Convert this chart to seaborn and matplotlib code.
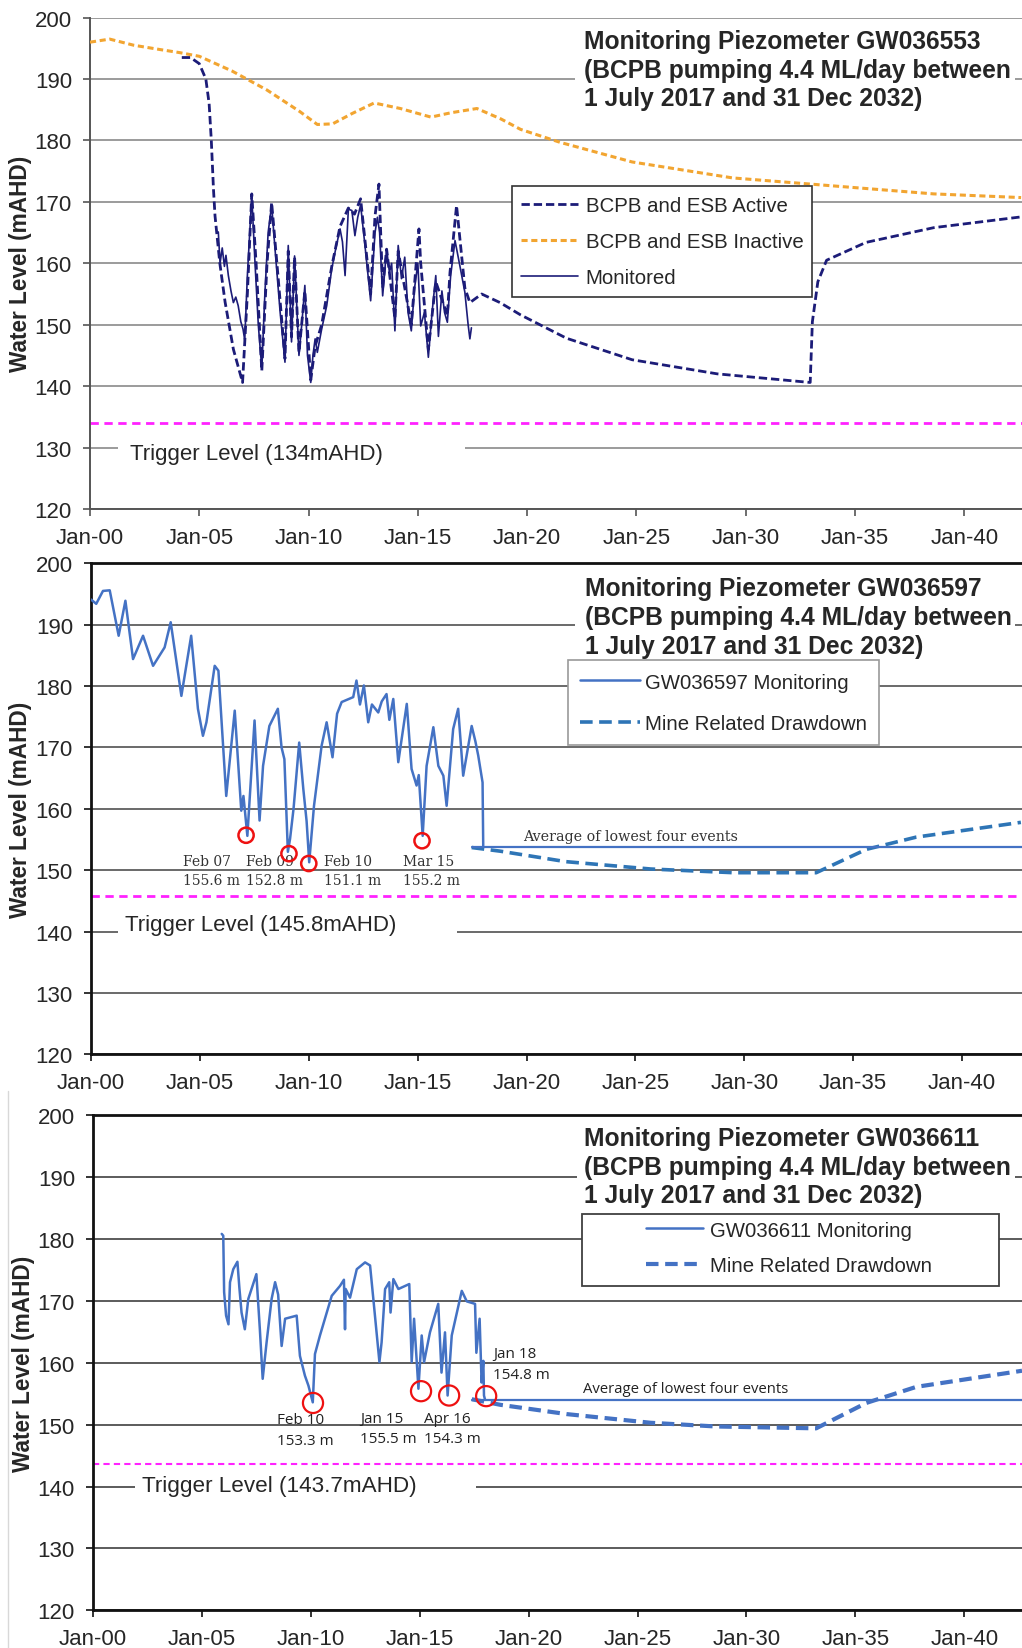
import matplotlib.pyplot as plt
from matplotlib.patches import Rectangle
from matplotlib.lines import Line2D
import seaborn as sns

sns.set_style("ticks")
plt.rcParams["font.family"] = ["Liberation Sans", "DejaVu Sans"]

# ---------------- shared axis data ----------------
x_ticks = [2000, 2005, 2010, 2015, 2020, 2025, 2030, 2035, 2040]
x_tick_labels = ["Jan-00", "Jan-05", "Jan-10", "Jan-15", "Jan-20", "Jan-25", "Jan-30", "Jan-35", "Jan-40"]
y_ticks = [120, 130, 140, 150, 160, 170, 180, 190, 200]

# ---------------- GW036553 ----------------
p1_title = "Monitoring Piezometer GW036553\n(BCPB pumping 4.4 ML/day between\n1 July 2017 and 31 Dec 2032)"
p1_inactive_year = [2000.0, 2000.9, 2002.0, 2003.2, 2004.1, 2005.0, 2006.5, 2008.1, 2009.6, 2010.4,
                    2011.1, 2012.0, 2013.0, 2014.2, 2015.6, 2016.5, 2017.7, 2018.8, 2019.7, 2021.5,
                    2024.8, 2029.4, 2033.3, 2038.6, 2042.6]
p1_inactive_level = [196.0, 196.5, 195.5, 194.8, 194.3, 193.7, 191.3, 188.2, 184.7, 182.6,
                     182.7, 184.4, 186.1, 185.2, 183.8, 184.5, 185.2, 183.5, 181.8, 179.7,
                     176.5, 173.9, 172.8, 171.3, 170.7]
p1_active_year = [2004.2, 2004.6, 2005.0, 2005.3, 2005.45, 2005.55, 2005.65, 2005.72, 2005.94, 2006.18,
                  2006.56, 2006.98, 2007.2, 2007.4, 2007.6, 2007.86, 2008.1, 2008.31, 2008.6, 2008.92,
                  2009.07, 2009.22, 2009.36, 2009.56, 2009.83, 2010.1, 2010.3, 2010.6, 2011.06, 2011.44,
                  2011.82, 2012.1, 2012.38, 2012.84, 2013.04, 2013.22, 2013.39, 2013.57, 2013.95, 2014.1,
                  2014.7, 2015.05, 2015.13, 2015.48, 2015.82, 2016.35, 2016.47, 2016.77, 2017.15, 2017.38,
                  2017.92, 2018.76, 2019.7, 2021.8, 2024.8, 2028.7, 2032.95, 2033.05, 2033.3, 2033.7,
                  2035.5, 2038.6, 2042.7]
p1_active_level = [193.5, 193.5, 192.5, 190.0, 186.0, 180.0, 172.0, 167.7, 160.0, 153.7,
                   146.0, 140.6, 155.0, 171.3, 160.0, 142.5, 160.0, 169.9, 158.0, 144.5,
                   162.0, 148.0, 161.0, 145.5, 155.5, 141.0, 146.5, 150.0, 159.5, 166.0,
                   169.0, 168.0, 170.5, 155.0, 167.7, 172.9, 156.0, 162.3, 151.0, 162.0,
                   150.0, 165.6, 160.0, 146.0, 157.0, 151.5, 158.5, 169.4, 156.0, 153.6,
                   155.0, 153.6, 151.6, 147.8, 144.3, 142.0, 140.6, 150.5, 157.0, 160.5,
                   163.4, 165.8, 167.6]
p1_monitored_year = [2005.87, 2005.95, 2006.05, 2006.15, 2006.22, 2006.33, 2006.45, 2006.56, 2006.67, 2006.78,
                     2006.9, 2007.0, 2007.08, 2007.2, 2007.4, 2007.55, 2007.7, 2007.86, 2008.0, 2008.15,
                     2008.31, 2008.45, 2008.7, 2008.92, 2009.07, 2009.22, 2009.36, 2009.56, 2009.7, 2009.83,
                     2009.95, 2010.1, 2010.2, 2010.3, 2010.4, 2010.6, 2010.83, 2011.06, 2011.25, 2011.44,
                     2011.55, 2011.67, 2011.82, 2011.98, 2012.12, 2012.25, 2012.38, 2012.58, 2012.84, 2013.04,
                     2013.15, 2013.25, 2013.39, 2013.57, 2013.7, 2013.8, 2013.95, 2014.1, 2014.25, 2014.4,
                     2014.55, 2014.7, 2014.85, 2015.0, 2015.13, 2015.3, 2015.48, 2015.65, 2015.82, 2015.94,
                     2016.1, 2016.22, 2016.35, 2016.5, 2016.7, 2016.9, 2017.15, 2017.3, 2017.38, 2017.45]
p1_monitored_level = [165.1, 160.0, 162.5, 159.5, 161.3, 158.0, 155.5, 153.6, 154.5, 153.1,
                      150.5, 149.3, 147.5, 158.0, 171.0, 160.0, 150.0, 142.8, 155.0, 165.0,
                      169.5, 163.0, 152.0, 143.9, 162.9, 147.2, 161.2, 145.0, 150.5, 156.4,
                      145.0, 140.6, 145.0, 147.7, 145.5, 149.3, 153.1, 159.1, 162.5, 165.6,
                      163.5, 158.0, 168.8, 168.6, 164.5, 167.5, 169.5, 162.9, 153.9, 165.0,
                      167.5, 165.0, 154.7, 162.3, 158.5, 160.0, 149.0, 162.9, 157.5, 161.0,
                      152.0, 149.0, 156.0, 160.0, 149.8, 152.0, 144.7, 152.0, 158.0, 148.1,
                      155.5, 152.0, 150.4, 158.0, 163.7, 160.0, 155.3, 150.0, 147.7, 149.5]
p1_trigger = 134.0
p1_trigger_label = "Trigger Level (134mAHD)"

# ---------------- GW036597 ----------------
p2_title = "Monitoring Piezometer GW036597\n(BCPB pumping 4.4 ML/day between\n1 July 2017 and 31 Dec 2032)"
p2_monitor_year = [2000.0, 2000.24, 2000.55, 2000.86, 2001.27, 2001.58, 2001.93, 2002.39, 2002.85, 2003.38,
                   2003.66, 2004.15, 2004.6, 2004.91, 2005.14, 2005.3, 2005.68, 2005.85, 2006.21, 2006.6,
                   2006.9, 2007.0, 2007.18, 2007.51, 2007.74, 2007.9, 2008.19, 2008.58, 2008.75, 2008.88,
                   2009.04, 2009.14, 2009.3, 2009.56, 2009.75, 2009.9, 2010.02, 2010.24, 2010.59, 2010.82,
                   2011.09, 2011.3, 2011.51, 2012.04, 2012.19, 2012.35, 2012.53, 2012.73, 2012.9, 2013.19,
                   2013.35, 2013.57, 2013.7, 2013.88, 2014.11, 2014.5, 2014.72, 2014.95, 2015.05, 2015.23,
                   2015.41, 2015.72, 2015.95, 2016.18, 2016.33, 2016.63, 2016.86, 2017.09, 2017.48, 2017.65,
                   2017.78, 2017.98, 2018.01]
p2_monitor_level = [194.1, 193.4, 195.5, 195.6, 188.2, 193.9, 184.4, 188.2, 183.3, 186.3,
                    190.4, 178.4, 188.2, 176.3, 171.9, 174.1, 183.3, 182.5, 162.1, 176.0,
                    159.7, 162.1, 155.6, 174.4, 158.1, 167.0, 173.5, 176.3, 170.0, 168.1,
                    153.0, 155.1, 160.0, 170.8, 163.2, 158.0, 151.3, 160.5, 170.3, 174.1,
                    168.4, 175.5, 177.4, 178.2, 180.9, 177.0, 180.1, 174.1, 177.0, 175.7,
                    177.5, 178.7, 174.5, 177.9, 167.6, 177.1, 166.5, 163.8, 165.5, 155.6,
                    167.0, 173.3, 167.0, 165.4, 160.5, 173.0, 176.3, 165.4, 173.5, 171.0,
                    168.7, 164.3, 154.0]
p2_drawdown_year = [2017.48, 2018.8, 2021.8, 2025.7, 2029.5, 2033.3, 2035.6, 2037.9, 2042.7]
p2_drawdown_level = [153.7, 153.1, 151.4, 150.2, 149.6, 149.6, 153.4, 155.4, 157.8]
p2_average_year = [2017.48, 2042.75]
p2_average_level = [153.8, 153.8]
p2_event_year = [2007.12, 2009.09, 2010.0, 2015.2]
p2_event_level = [155.7, 152.7, 151.1, 154.8]
p2_event_label = ["Feb 07\n155.6 m", "Feb 09\n152.8 m", "Feb 10\n151.1 m", "Mar 15\n155.2 m"]
p2_trigger = 145.8
p2_trigger_label = "Trigger Level (145.8mAHD)"

# ---------------- GW036611 ----------------
p3_title = "Monitoring Piezometer GW036611\n(BCPB pumping 4.4 ML/day between\n1 July 2017 and 31 Dec 2032)"
p3_monitor_year = [2005.91, 2005.98, 2006.02, 2006.11, 2006.22, 2006.29, 2006.44, 2006.63, 2006.72, 2006.82,
                   2006.97, 2007.13, 2007.5, 2007.66, 2007.79, 2007.97, 2008.2, 2008.36, 2008.5, 2008.66,
                   2008.82, 2009.35, 2009.5, 2009.73, 2009.89, 2010.09, 2010.19, 2010.42, 2010.96, 2011.34,
                   2011.52, 2011.57, 2011.6, 2011.8, 2012.11, 2012.49, 2012.72, 2012.87, 2013.15, 2013.25,
                   2013.41, 2013.6, 2013.66, 2013.79, 2014.02, 2014.52, 2014.63, 2014.74, 2014.94, 2015.09,
                   2015.2, 2015.47, 2015.85, 2016.0, 2016.16, 2016.28, 2016.47, 2016.93, 2017.16, 2017.54,
                   2017.6, 2017.75, 2017.84, 2017.92, 2017.95, 2018.0]
p3_monitor_level = [180.8, 180.5, 171.4, 167.6, 166.2, 173.0, 175.1, 176.3, 172.1, 168.1,
                    165.4, 170.3, 174.3, 165.4, 157.4, 163.3, 170.3, 173.0, 171.0, 162.7,
                    167.1, 167.6, 161.1, 157.9, 156.3, 153.6, 161.4, 164.4, 170.8, 172.4,
                    173.4, 165.4, 171.9, 170.5, 175.1, 176.2, 175.7, 170.3, 160.1, 163.3,
                    171.9, 173.0, 168.1, 173.5, 171.9, 172.7, 160.1, 167.1, 155.8, 164.4,
                    160.1, 164.9, 169.5, 158.4, 164.9, 154.7, 164.4, 171.6, 169.9, 169.5,
                    161.6, 167.1, 156.8, 160.3, 154.7, 154.0]
p3_drawdown_year = [2017.39, 2018.7, 2021.75, 2025.6, 2028.6, 2033.2, 2035.5, 2037.8, 2042.65]
p3_drawdown_level = [154.1, 153.2, 151.7, 150.3, 149.7, 149.4, 153.5, 156.1, 158.7]
p3_average_year = [2017.39, 2042.65]
p3_average_level = [154.0, 154.0]
p3_event_year = [2010.1, 2015.06, 2016.35, 2018.05]
p3_event_level = [153.5, 155.4, 154.7, 154.6]
p3_event_label = ["Feb 10\n153.3 m", "Jan 15\n155.5 m", "Apr 16\n154.3 m", "Jan 18\n154.8 m"]
p3_trigger = 143.7
p3_trigger_label = "Trigger Level (143.7mAHD)"

average_label = "Average of lowest four events"

# ---------------- layout ----------------
W, H = 1022, 1649
fig = plt.figure(figsize=(W / 100, H / 100), dpi=100)


def px_axes(left, top, bottom):
    return fig.add_axes([left / W, 1 - bottom / H, (W - left) / W, (bottom - top) / H])


ax1 = px_axes(90, 18.6, 510)
ax2 = px_axes(91, 564.3, 1055.4)
ax3 = px_axes(93, 1116, 1611.4)


def style_axes(ax, xmax, grid_color, spine_color, spine_w, top_spine, label_x):
    ax.set_xlim(2000, xmax)
    ax.set_ylim(120, 200)
    ax.set_xticks(x_ticks, labels=x_tick_labels)
    ax.set_yticks(y_ticks)
    ax.grid(axis="y", color=grid_color, linewidth=1.2)
    ax.set_axisbelow(True)
    ax.spines["right"].set_visible(False)
    ax.spines["top"].set_visible(top_spine)
    for side in ("left", "bottom", "top"):
        ax.spines[side].set_color(spine_color)
        ax.spines[side].set_linewidth(spine_w)
    ax.tick_params(direction="out", length=5, width=1.2, color=spine_color, labelsize=16)
    ax.tick_params(axis="y", pad=8)
    ax.tick_params(axis="x", pad=8)
    ax.set_xlabel("")
    ax.set_ylabel("Water Level (mAHD)", fontsize=16.3, fontweight="bold")
    ax.yaxis.set_label_coords(label_x, 0.5)


def white_gap(ax, x0, x1, y0, y1):
    ax.add_patch(Rectangle((x0, y0), x1 - x0, y1 - y0, transform=ax.transAxes,
                           facecolor="white", edgecolor="none", zorder=1.5))


def add_title(ax, x, y, text):
    ax.text(x, y, text, transform=ax.transAxes, ha="left", va="top", fontsize=17.7,
            fontweight="bold", linespacing=1.25, zorder=6)


# ---- panel 1 ----
style_axes(ax1, 2042.64, "#8a8a8a", "#555555", 1.4, False, -0.062)
sns.lineplot(x=p1_active_year, y=p1_active_level, ax=ax1, color="#1c1c78", linewidth=2.0,
             linestyle=(0, (3, 1.4)), sort=False, estimator=None, label="BCPB and ESB Active", zorder=3)
sns.lineplot(x=p1_inactive_year, y=p1_inactive_level, ax=ax1, color="#f2a531", linewidth=2.2,
             linestyle=(0, (2, 1.2)), sort=False, estimator=None, label="BCPB and ESB Inactive", zorder=3)
sns.lineplot(x=p1_monitored_year, y=p1_monitored_level, ax=ax1, color="#1c1c78", linewidth=1.2,
             sort=False, estimator=None, label="Monitored", zorder=3)
ax1.axhline(p1_trigger, color="#ff22ff", linewidth=2.0, linestyle=(0, (3, 2)), zorder=2)
white_gap(ax1, (118 - 90) / 932, (465 - 90) / 932, 0.105, 0.145)
ax1.text(2001.83, 129.0, p1_trigger_label, fontsize=16, va="center", ha="left", zorder=4)
white_gap(ax1, (575 - 90) / 932, (1015 - 90) / 932, 0.80, 0.99)
add_title(ax1, 0.530, 0.977, p1_title)
ax1.legend(loc="upper left", bbox_to_anchor=(0.4528, 0.6563), borderaxespad=0, fontsize=14.7,
           frameon=True, fancybox=False, edgecolor="#333333", framealpha=1, handlelength=2.8,
           handletextpad=0.35, labelspacing=0.85, borderpad=0.45).get_frame().set_linewidth(1.2)

# ---- panel 2 ----
style_axes(ax2, 2042.75, "#505050", "#111111", 2.0, True, -0.063)
sns.lineplot(x=p2_monitor_year, y=p2_monitor_level, ax=ax2, color="#4472c4", linewidth=1.8,
             sort=False, estimator=None, label="GW036597 Monitoring", zorder=3)
sns.lineplot(x=p2_drawdown_year, y=p2_drawdown_level, ax=ax2, color="#2e75b6", linewidth=2.6,
             linestyle=(0, (3.5, 1.8)), sort=False, estimator=None, label="Mine Related Drawdown", zorder=3)
sns.lineplot(x=p2_average_year, y=p2_average_level, ax=ax2, color="#4472c4", linewidth=1.6,
             sort=False, estimator=None, legend=False, zorder=3)
sns.scatterplot(x=p2_event_year, y=p2_event_level, ax=ax2, s=120, marker="o", facecolor="none",
                edgecolor="#ee1111", linewidth=1.8, zorder=5, legend=False)
ax2.axhline(p2_trigger, color="#ff22ff", linewidth=2.0, linestyle=(0, (3, 2)), zorder=2)
white_gap(ax2, (118 - 91) / 931, (457 - 91) / 931, 0.23, 0.27)
ax2.text(2001.56, 141.2, p2_trigger_label, fontsize=16, va="center", ha="left", zorder=4)
for xt, yt, lab in zip([2004.22, 2007.12, 2010.70, 2014.32], [150.0, 150.0, 150.0, 150.0], p2_event_label):
    ax2.text(xt, yt, lab, family="DejaVu Serif", fontsize=10, color="#333333", va="center",
             ha="left", linespacing=1.45, zorder=4)
ax2.text(2019.83, 155.5, average_label, family="DejaVu Serif", fontsize=10.3, color="#333333",
         va="center", ha="left", zorder=4)
white_gap(ax2, (575 - 91) / 931, (1015 - 91) / 931, 0.80, 0.99)
add_title(ax2, 0.5306, 0.974, p2_title)
ax2.legend(loc="upper left", bbox_to_anchor=(0.5124, 0.8023), borderaxespad=0, fontsize=14.7,
           frameon=True, fancybox=False, edgecolor="#9a9a9a", framealpha=1, handlelength=2.9,
           handletextpad=0.25, labelspacing=1.1, borderpad=0.6).get_frame().set_linewidth(1.2)

# ---- panel 3 ----
style_axes(ax3, 2042.65, "#404040", "#111111", 2.0, True, -0.062)
sns.lineplot(x=p3_monitor_year, y=p3_monitor_level, ax=ax3, color="#4472c4", linewidth=1.8,
             sort=False, estimator=None, label="GW036611 Monitoring", zorder=3)
sns.lineplot(x=p3_drawdown_year, y=p3_drawdown_level, ax=ax3, color="#4472c4", linewidth=3.0,
             linestyle=(0, (3, 1.6)), sort=False, estimator=None, label="Mine Related Drawdown", zorder=3)
sns.lineplot(x=p3_average_year, y=p3_average_level, ax=ax3, color="#4472c4", linewidth=1.6,
             sort=False, estimator=None, legend=False, zorder=3)
sns.scatterplot(x=p3_event_year, y=p3_event_level, ax=ax3, s=210, marker="o", facecolor="none",
                edgecolor="#ee1111", linewidth=1.6, zorder=5, legend=False)
ax3.axhline(p3_trigger, color="#ff22ff", linewidth=1.5, linestyle=(0, (3, 2)), zorder=2)
white_gap(ax3, (135 - 93) / 929, (476 - 93) / 929, 0.23, 0.27)
ax3.text(2002.25, 140.2, p3_trigger_label, fontsize=16.2, va="center", ha="left", zorder=4)
for xt, yt, lab in zip([2008.45, 2012.26, 2015.2, 2018.37], [149.1, 149.4, 149.4, 159.8], p3_event_label):
    ax3.text(xt, yt, lab, family="Open Sans", fontsize=11, color="#222222", va="center",
             ha="left", linespacing=1.5, zorder=4)
ax3.text(2022.5, 155.8, average_label, family="Open Sans", fontsize=10.7, color="#222222",
         va="center", ha="left", zorder=4)
white_gap(ax3, (577 - 93) / 929, (1015 - 93) / 929, 0.80, 0.99)
add_title(ax3, 0.5285, 0.978, p3_title)
ax3.add_patch(Rectangle((0.5264, 0.6546), 0.4489, 0.1455, transform=ax3.transAxes,
                        facecolor="white", edgecolor="#404040", linewidth=1.3, zorder=4))
ax3.legend(loc="upper left", bbox_to_anchor=(0.5953, 0.787), borderaxespad=0, fontsize=14.7,
           frameon=False, handlelength=2.8, handletextpad=0.35, labelspacing=0.8, borderpad=0)

fig.add_artist(Line2D([8 / W, 8 / W], [0, 1 - 1092 / H], color="#d8d8d8", linewidth=1))

fig.savefig("out.png", dpi=100)
